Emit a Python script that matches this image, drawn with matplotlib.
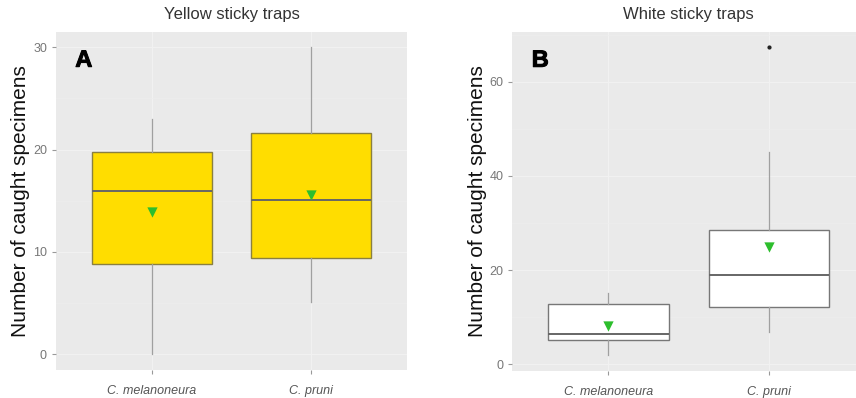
import matplotlib.pyplot as plt
import matplotlib.patheffects as pe
from matplotlib.ticker import MultipleLocator

plt.rcParams['font.family'] = ['Liberation Sans', 'DejaVu Sans']

species = ["C. melanoneura", "C. pruni"]

# Yellow traps: box statistics per species
yellow_q1 = [8.8, 9.4]
yellow_med = [16.0, 15.1]
yellow_q3 = [19.8, 21.6]
yellow_lo = [0.0, 5.1]
yellow_hi = [23.0, 30.0]
yellow_mean = [13.9, 15.6]
yellow_out = [[], []]

# White traps
white_q1 = [5.2, 12.2]
white_med = [6.5, 18.9]
white_q3 = [12.7, 28.6]
white_lo = [1.9, 6.9]
white_hi = [15.1, 45.1]
white_mean = [8.1, 24.8]
white_out = [[], [67.3]]


def make_stats(q1, med, q3, lo, hi, out):
    return [dict(q1=a, med=b, q3=c, whislo=d, whishi=e, fliers=f, label=s)
            for a, b, c, d, e, f, s in zip(q1, med, q3, lo, hi, out, species)]


def draw_panel(ax, stats, means, fill, edge, title, letter, ylim, major):
    ax.set_facecolor('#EAEAEA')
    for sp in ax.spines.values():
        sp.set_visible(False)
    ax.yaxis.set_major_locator(MultipleLocator(major))
    ax.yaxis.set_minor_locator(MultipleLocator(major / 2))
    ax.grid(True, which='major', color='#F1F1F1', lw=0.8)
    ax.grid(True, which='minor', axis='y', color='#EEEEEE', lw=0.5)
    ax.set_axisbelow(True)

    ax.bxp(stats, positions=[1, 2], widths=0.75, patch_artist=True,
           showcaps=False,
           boxprops=dict(facecolor=fill, edgecolor=edge, lw=1.0),
           medianprops=dict(color='#666666', lw=1.4),
           whiskerprops=dict(color='#A0A0A0', lw=0.9),
           flierprops=dict(marker='o', markersize=2, markerfacecolor='#222222',
                           markeredgecolor='#222222'))
    ax.scatter([1, 2], means, marker='v', s=55, color='#2DBE2D', zorder=5,
               linewidths=0)

    ax.set_xlim(0.4, 2.6)
    ax.set_ylim(*ylim)
    ax.set_xticks([1, 2])
    ax.set_xticklabels(species, style='italic', fontsize=9)
    ax.tick_params(axis='both', colors='#999999', length=3, width=0.8,
                   labelsize=9, labelcolor='#777777')
    ax.tick_params(axis='y', which='minor', length=0)
    ax.tick_params(axis='x', labelcolor='#555555', pad=8)
    ax.set_ylabel("Number of caught specimens", fontsize=15, color='#111111',
                  labelpad=2)
    ax.set_title(title, fontsize=12, color='#333333', pad=9)
    ax.text(0.055, 0.95, letter, transform=ax.transAxes, fontsize=17,
            fontweight='bold', color='black', va='top', ha='left',
            path_effects=[pe.withStroke(linewidth=0.7, foreground='black')])


fig = plt.figure(figsize=(8.56, 3.98), dpi=100)
ax_a = fig.add_axes([0.0654, 0.071, 0.41, 0.849])
ax_b = fig.add_axes([0.5985, 0.069, 0.412, 0.851])

draw_panel(ax_a, make_stats(yellow_q1, yellow_med, yellow_q3, yellow_lo,
                            yellow_hi, yellow_out),
           yellow_mean, '#FFDD00', '#8A8040', "Yellow sticky traps", "A",
           (-1.5, 31.5), 10)
draw_panel(ax_b, make_stats(white_q1, white_med, white_q3, white_lo,
                            white_hi, white_out),
           white_mean, 'white', '#777777', "White sticky traps", "B",
           (-1.36, 70.6), 20)

fig.savefig('out.png', dpi=100)
